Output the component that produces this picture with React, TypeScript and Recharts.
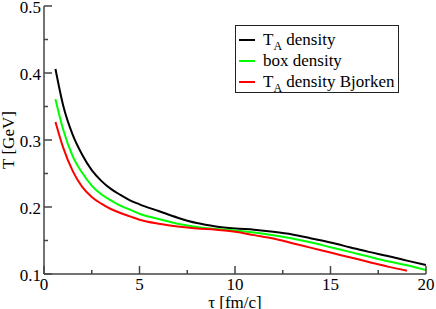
import { LineChart, Line, XAxis, YAxis } from "recharts";

// τ [fm/c] sampling points
const TAU = [0.6, 1, 1.5, 2, 2.5, 3, 3.5, 4, 4.5, 5, 6, 7, 8, 9, 10, 11, 12, 13, 14, 15, 16, 17, 18, 19, 20];

// T [GeV]
const TA_DENSITY = [0.406, 0.352, 0.308, 0.278, 0.255, 0.239, 0.227, 0.218, 0.21, 0.204, 0.194, 0.184, 0.176, 0.171, 0.168, 0.166, 0.163, 0.159, 0.153, 0.147, 0.14, 0.133, 0.127, 0.12, 0.1135];
const BOX_DENSITY = [0.361, 0.316, 0.276, 0.251, 0.232, 0.219, 0.21, 0.202, 0.196, 0.19, 0.182, 0.175, 0.17, 0.167, 0.165, 0.162, 0.158, 0.153, 0.147, 0.14, 0.133, 0.126, 0.119, 0.113, 0.106];
const TA_BJORKEN = [0.327, 0.289, 0.254, 0.23, 0.215, 0.205, 0.197, 0.191, 0.186, 0.181, 0.175, 0.171, 0.168, 0.166, 0.163, 0.158, 0.153, 0.146, 0.139, 0.132, 0.125, 0.118, 0.111, 0.105];

const X_TICKS = [0, 2.5, 5, 7.5, 10, 12.5, 15, 17.5, 20];
const Y_TICKS = [0.1, 0.15, 0.2, 0.25, 0.3, 0.35, 0.4, 0.45, 0.5];

const SERIES = [
  { key: "ta", main: "T", sub: "A", rest: " density", color: "#000000", values: TA_DENSITY },
  { key: "box", main: "box density", sub: "", rest: "", color: "#00ff00", values: BOX_DENSITY },
  { key: "bj", main: "T", sub: "A", rest: " density Bjorken", color: "#ff0000", values: TA_BJORKEN },
];

const FONT = "'Liberation Serif', 'Times New Roman', serif";
const AXIS_COLOR = "#444";

function toPoints(values: number[]) {
  return values.map((v, i) => ({ tau: TAU[i], T: v }));
}

function isMajorX(v: number) {
  return Math.round(v * 10) % 50 === 0;
}

function isMajorY(v: number) {
  return Math.round(v * 100) % 10 === 0;
}

const textStyle = { fontFamily: FONT, fontSize: 17, fill: "#000" };

function LeftTick(props: any) {
  const { x, y, payload } = props;
  const major = isMajorY(payload.value);
  return (
    <g>
      <line x1={x} x2={x + (major ? 8 : 4)} y1={y} y2={y} stroke={AXIS_COLOR} strokeWidth={1.5} />
      {major && (
        <text x={x - 3} y={y + 7} textAnchor="end" style={textStyle}>
          {payload.value.toFixed(1)}
        </text>
      )}
    </g>
  );
}

function RightTick(props: any) {
  const { x, y, payload } = props;
  const major = isMajorY(payload.value);
  return <line x1={x} x2={x - (major ? 8 : 4)} y1={y} y2={y} stroke={AXIS_COLOR} strokeWidth={1.5} />;
}

function BottomTick(props: any) {
  const { x, y, payload } = props;
  const major = isMajorX(payload.value);
  return (
    <g>
      <line x1={x} x2={x} y1={y} y2={y - (major ? 8 : 4)} stroke={AXIS_COLOR} strokeWidth={1.5} />
      {major && (
        <text x={x} y={y + 16} textAnchor="middle" style={textStyle}>
          {payload.value}
        </text>
      )}
    </g>
  );
}

function TopTick(props: any) {
  const { x, y, payload } = props;
  const major = isMajorX(payload.value);
  return <line x1={x} x2={x} y1={y} y2={y + (major ? 8 : 4)} stroke={AXIS_COLOR} strokeWidth={1.5} />;
}

function YLabel(props: any) {
  const { viewBox } = props;
  const cx = viewBox.x + 14;
  const cy = viewBox.y + viewBox.height / 2;
  return (
    <text x={cx} y={cy} transform={`rotate(-90 ${cx} ${cy})`} textAnchor="middle" style={textStyle}>
      T [GeV]
    </text>
  );
}

function LegendBox() {
  return (
    <div
      style={{
        position: "absolute",
        left: 235,
        top: 25,
        border: "1px solid #222",
        background: "#fff",
        fontFamily: FONT,
        fontSize: 17,
        padding: "3px 0 4px 3px",
        width: 164,
        height: 68,
        boxSizing: "border-box",
      }}
    >
      {SERIES.map((s) => (
        <div key={s.key} style={{ display: "flex", alignItems: "center", height: 21, whiteSpace: "nowrap" }}>
          <span style={{ display: "inline-block", width: 16, height: 2, background: s.color, marginRight: 8 }} />
          <span>
            {s.main}
            {s.sub && <sub style={{ fontSize: 12, verticalAlign: -5, lineHeight: 0 }}>{s.sub}</sub>}
            {s.rest}
          </span>
        </div>
      ))}
    </div>
  );
}

export default function App() {
  return (
    <div style={{ position: "absolute", left: 0, top: 0, width: 436, height: 309, background: "#fff" }}>
      <LineChart width={436} height={309} margin={{ top: 6, right: 10, bottom: 0, left: 0 }}>
        <XAxis
          dataKey="tau"
          type="number"
          domain={[0, 20]}
          ticks={X_TICKS}
          interval={0}
          height={35}
          tickSize={0}
          tickMargin={0}
          tick={<BottomTick />}
          axisLine={{ stroke: AXIS_COLOR, strokeWidth: 1.5 }}
          allowDataOverflow
          label={{ value: "τ [fm/c]", position: "center", dy: 10, style: textStyle }}
        />
        <XAxis
          xAxisId="top"
          orientation="top"
          dataKey="tau"
          type="number"
          domain={[0, 20]}
          ticks={X_TICKS}
          interval={0}
          height={0}
          tickSize={0}
          tickMargin={0}
          tick={<TopTick />}
          axisLine={{ stroke: AXIS_COLOR, strokeWidth: 1.5 }}
          allowDataOverflow
        />
        <YAxis
          type="number"
          domain={[0.1, 0.5]}
          ticks={Y_TICKS}
          interval={0}
          width={44}
          tickSize={0}
          tickMargin={0}
          tick={<LeftTick />}
          axisLine={{ stroke: AXIS_COLOR, strokeWidth: 1.5 }}
          allowDataOverflow
          label={<YLabel />}
        />
        <YAxis
          yAxisId="right"
          orientation="right"
          type="number"
          domain={[0.1, 0.5]}
          ticks={Y_TICKS}
          interval={0}
          width={0}
          tickSize={0}
          tickMargin={0}
          tick={<RightTick />}
          axisLine={{ stroke: AXIS_COLOR, strokeWidth: 1.5 }}
          allowDataOverflow
        />
        {SERIES.map((s) => (
          <Line
            key={s.key}
            data={toPoints(s.values)}
            dataKey="T"
            name={s.key}
            type="monotone"
            stroke={s.color}
            strokeWidth={2}
            dot={false}
            isAnimationActive={false}
          />
        ))}
      </LineChart>
      <LegendBox />
    </div>
  );
}
